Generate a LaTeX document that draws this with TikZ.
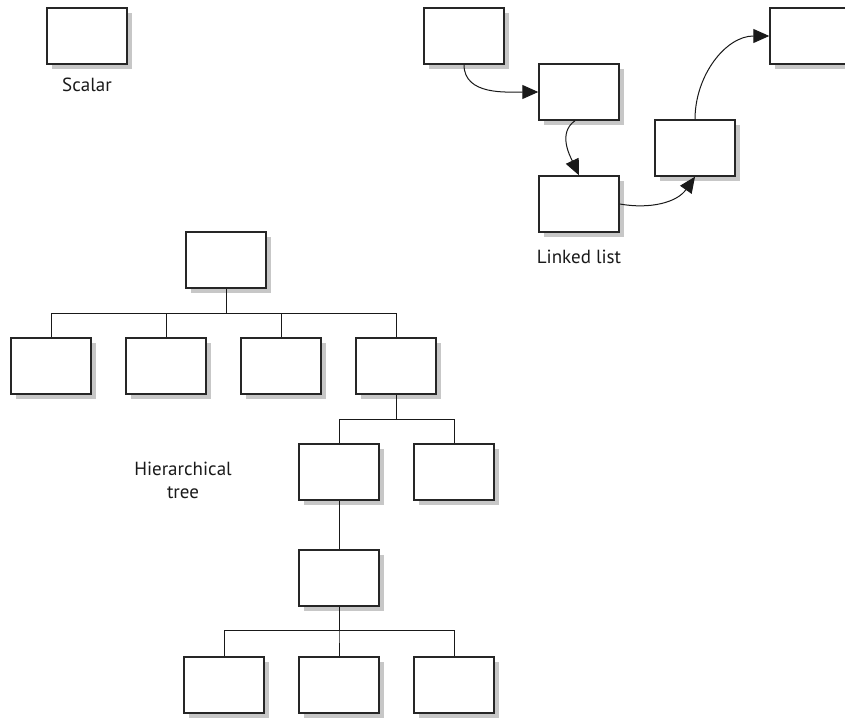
\documentclass[tikz,border=0pt]{standalone}
\usepackage{fontspec}
\setmainfont{PT Sans}
\usepackage{tikz}
\usetikzlibrary{arrows.meta,shadows,calc}

\begin{document}
\begin{tikzpicture}[x=1pt, y=-1pt, >={Triangle[length=16pt,width=14pt]},
		font=\fontsize{19}{23}\selectfont,
		cell/.style={draw=black!85, line width=1.4pt, fill=white, minimum width=80pt, minimum height=56pt, inner sep=0pt,
			drop shadow={shadow xshift=5pt, shadow yshift=-5pt, fill=black!22, opacity=1}},
		link/.style={draw=black!90, line width=1pt},
		lbl/.style={text=black!90, align=center}]
		\useasboundingbox (0,0) rectangle (845,717);
		% scalar
		\node[cell] (sc) at (87,36) {};
		\node[lbl] (sclbl) at (87,85) {Scalar};
		% linked list
		\node[cell] (l1) at (464,36) {};
		\node[cell] (l2) at (579,92) {};
		\node[cell] (l3) at (579,204) {};
		\node[cell] (l4) at (695,148) {};
		\node[cell] (l5) at (810,36) {};
		\node[lbl] (lllbl) at (579,257) {Linked list};
		\draw[link,->] (l1.south) to[out=-90,in=180] (l2.west);
		\draw[link,->] ($(l2.south)+(-4,0)$) to[out=215,in=115] (l3.north);
		\draw[link,->] (l3.east) to[out=-10,in=-125] (l4.south);
		\draw[link,->] (l4.north) to[out=90,in=180] (l5.west);
		% hierarchical tree
		\node[cell] (root) at (226,260) {};
		\foreach \i/\xc in {1/51,2/166,3/281,4/396} {
			\node[cell] (c\i) at (\xc,366) {};
			\draw[link] (root.south) -- ++(0,25) -| (c\i.north);
		}
		\node[cell] (d1) at (339,472) {};
		\node[cell] (d2) at (454,472) {};
		\foreach \n in {d1,d2}
			\draw[link] (c4.south) -- ++(0,25) -| (\n.north);
		\node[cell] (e) at (339,578) {};
		\draw[link] (d1.south) -- (e.north);
		\foreach \i/\xc in {1/224,2/339,3/454} {
			\node[cell] (f\i) at (\xc,685) {};
			\draw[link] (e.south) -- ++(0,24) -| (f\i.north);
		}
		\node[lbl] (htlbl) at (183,480) {Hierarchical\\tree};
	\end{tikzpicture}
\end{document}
